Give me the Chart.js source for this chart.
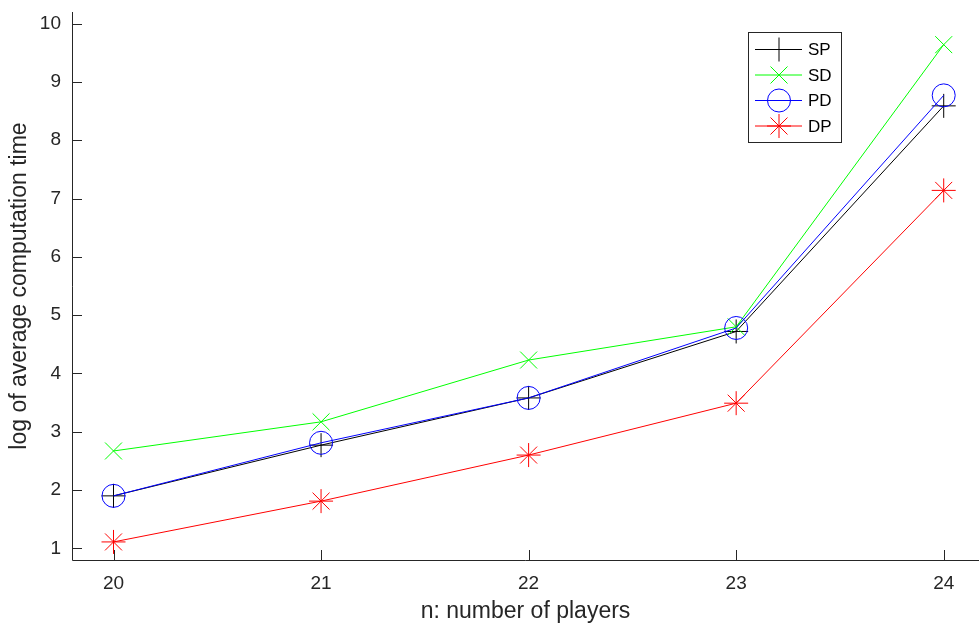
<!DOCTYPE html>
<html>
<head>
<meta charset="utf-8">
<script src="https://cdn.jsdelivr.net/npm/chart.js@4.4.1/dist/chart.umd.min.js"></script>
<style>
  html, body { margin: 0; padding: 0; background: #fff; }
  #wrap { width: 979px; height: 625px; position: relative; }
</style>
</head>
<body>
<div id="wrap"><canvas id="chTime"></canvas></div>
<script>
// values
const players = [20, 21, 22, 23, 24];
const spTimes = [1.90, 2.77, 3.58, 4.72, 8.59];
const sdTimes = [2.67, 3.17, 4.23, 4.80, 9.64];
const pdTimes = [1.90, 2.81, 3.58, 4.78, 8.77];
const dpTimes = [1.11, 1.81, 2.60, 3.49, 7.14];
const xTicks = [20, 21, 22, 23, 24];
const yTicks = [1, 2, 3, 4, 5, 6, 7, 8, 9, 10];

const FONT = "'Liberation Sans', Arial, Helvetica, sans-serif";
const axisColor = '#262626';

const series = [
  { label: 'SP', data: spTimes, color: '#000000', style: 'cross', r: 12 },
  { label: 'SD', data: sdTimes, color: '#00ff00', style: 'crossRot', r: 12 },
  { label: 'PD', data: pdTimes, color: '#0000ff', style: 'circle', r: 11.5 },
  { label: 'DP', data: dpTimes, color: '#ff0000', style: 'star', r: 12 }
];

// MATLAB-ish look: axis lines, inward ticks, boxed legend with line + marker
const matlabAxes = {
  id: 'matlabAxes',
  afterDraw(chart) {
    const { ctx, chartArea: a, scales: { x, y } } = chart;
    ctx.save();
    ctx.strokeStyle = axisColor;
    ctx.lineWidth = 1;
    ctx.beginPath();
    ctx.moveTo(a.left + 0.5, a.top);
    ctx.lineTo(a.left + 0.5, a.bottom + 0.5);
    ctx.lineTo(a.right, a.bottom + 0.5);
    yTicks.forEach(v => {
      const p = Math.round(y.getPixelForValue(v)) + 0.5;
      ctx.moveTo(a.left, p); ctx.lineTo(a.left + 10, p);
    });
    xTicks.forEach(v => {
      const p = Math.round(x.getPixelForValue(v)) + 0.5;
      ctx.moveTo(p, a.bottom); ctx.lineTo(p, a.bottom - 10);
    });
    ctx.stroke();

    // legend
    const bx = 748.5, by = 32.5, bw = 93, bh = 110;
    ctx.fillStyle = '#fff';
    ctx.fillRect(bx, by, bw, bh);
    ctx.strokeStyle = axisColor;
    ctx.strokeRect(bx, by, bw, bh);
    ctx.font = '17px ' + FONT;
    ctx.textBaseline = 'middle';
    ctx.textAlign = 'left';
    series.forEach((s, i) => {
      const ly = 49.5 + i * 25.5;
      ctx.strokeStyle = s.color;
      ctx.lineWidth = 1;
      ctx.beginPath();
      ctx.moveTo(755, ly); ctx.lineTo(802, ly);
      ctx.stroke();
      ctx.fillStyle = 'rgba(0,0,0,0)';
      Chart.helpers.drawPoint(ctx, { pointStyle: s.style, radius: s.r, rotation: 0, borderWidth: 1 }, 779, ly);
      ctx.fillStyle = '#000';
      ctx.fillText(s.label, 808, ly + 1);
    });
    ctx.restore();
  }
};

new Chart(document.getElementById('chTime'), {
  type: 'line',
  data: {
    datasets: series.map((s, i) => ({
      label: s.label,
      data: players.map((p, k) => ({ x: p, y: s.data[k] })),
      borderColor: s.color,
      backgroundColor: 'transparent',
      borderWidth: 1,
      pointStyle: s.style,
      pointRadius: s.r,
      pointBorderColor: s.color,
      pointBackgroundColor: 'transparent',
      pointBorderWidth: 1,
      tension: 0,
      order: series.length - i
    }))
  },
  options: {
    responsive: true, maintainAspectRatio: false, animation: false,
    layout: { autoPadding: false, padding: { top: 12, right: 0, left: 0, bottom: 0 } },
    plugins: { legend: { display: false }, tooltip: { enabled: false } },
    scales: {
      x: {
        type: 'linear', min: 19.8, max: 24.17,
        afterBuildTicks: s => { s.ticks = xTicks.map(v => ({ value: v })); },
        afterFit: s => { s.height = 65; s.paddingLeft = 0; s.paddingRight = 0; },
        grid: { display: false, drawTicks: false },
        border: { display: false },
        ticks: { color: axisColor, padding: 12, font: { family: FONT, size: 19 }, maxRotation: 0 },
        title: { display: true, text: 'n: number of players', color: axisColor,
                 font: { family: FONT, size: 23, lineHeight: 1 }, padding: { top: 0, bottom: 1.5 } }
      },
      y: {
        min: 0.8, max: 10.2,
        afterBuildTicks: s => { s.ticks = yTicks.map(v => ({ value: v })); },
        afterFit: s => { s.width = 72; s.paddingTop = 0; s.paddingBottom = 0; },
        grid: { display: false, drawTicks: false },
        border: { display: false },
        ticks: { color: axisColor, padding: 11, font: { family: FONT, size: 19 } },
        title: { display: true, text: 'log of average computation time', color: axisColor,
                 font: { family: FONT, size: 23, lineHeight: 1 }, padding: { top: 8, bottom: 0 } }
      }
    }
  },
  plugins: [matlabAxes]
});
</script>
</body>
</html>
